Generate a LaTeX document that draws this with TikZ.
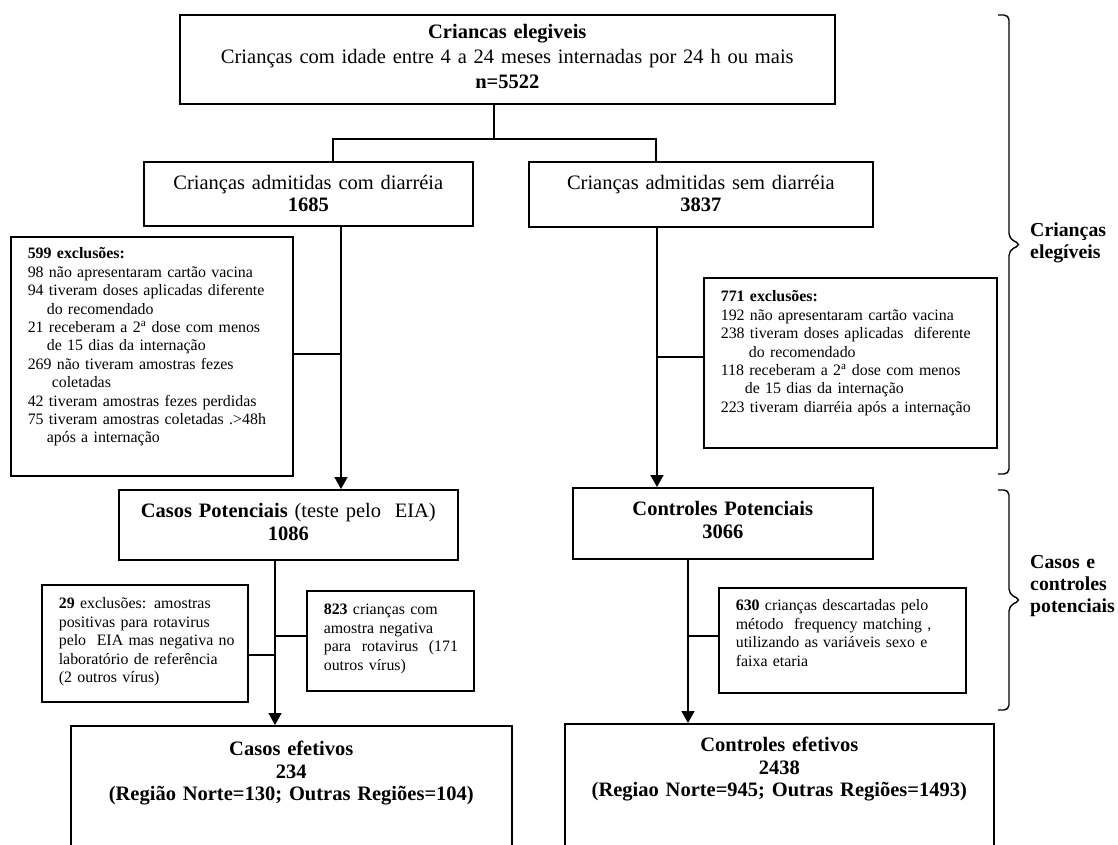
\documentclass[tikz,border=0pt]{standalone}
\usepackage{fontspec}
\setmainfont{Liberation Serif}
\usetikzlibrary{arrows.meta, calc}
\newcommand{\bigfont}{\fontsize{20.5}{23}\selectfont}
\newcommand{\smallfont}{\fontsize{15.9}{18.4}\selectfont}
\tikzstyle{mainbox}=[draw, line width=1.6pt, inner xsep=0pt, inner ysep=0pt, anchor=north west, align=center, font=\bigfont]
\tikzstyle{exbox}=[draw, line width=1.6pt, inner xsep=17pt, inner ysep=0pt, anchor=north west, align=left, font=\smallfont]
\tikzstyle{side}=[inner sep=0pt, anchor=north west, align=left, text width=100pt, font=\fontsize{19.8}{22}\selectfont\bfseries]
\tikzstyle{arr}=[line width=1.6pt, -{Triangle[width=13pt,length=12pt]}]
\tikzstyle{conn}=[line width=1.6pt]
\tikzstyle{curl}=[line width=1.4pt, rounded corners=5pt]

\begin{document}
\begin{tikzpicture}[x=1pt, y=-1pt]
        \useasboundingbox (0,0) rectangle (1118,845);
        \clip (0,0) rectangle (1118,845);
        \node[mainbox, font=\fontsize{20.5}{25}\selectfont, text width=655pt, text height=24pt, text depth=65pt] (elig) at (179,14)
            {\textbf{Criancas elegiveis}\\ Crianças com idade entre 4 a 24 meses internadas por 24 h ou mais\\ \textbf{n=5522}};
        \node[mainbox, font=\fontsize{20.5}{22}\selectfont, text width=329pt, text height=28pt, text depth=36pt] (cdia) at (143,161)
            {Crianças admitidas com diarréia\\ \textbf{1685}};
        \node[mainbox, font=\fontsize{20.5}{22}\selectfont, text width=344pt, text height=28pt, text depth=37pt] (sdia) at (528,161)
            {Crianças admitidas sem diarréia\\ \textbf{3837}};
        \node[exbox, text width=248pt, text height=22pt, text depth=217pt] (exl) at (10,236)
            {\begin{tabular}[t]{@{}l@{}}
            \textbf{599 exclusões:}\\
            98 não apresentaram cartão vacina\\
            94 tiveram doses aplicadas diferente\\
            \hspace*{19pt}do recomendado\\
            21 receberam a 2\textsuperscript{a} dose com menos\\
            \hspace*{19pt}de 15 dias da internação\\
            269 não tiveram amostras fezes\\
            \hspace*{24pt}coletadas\\
            42 tiveram amostras fezes perdidas\\
            75 tiveram amostras coletadas .>48h\\
            \hspace*{19pt}após a internação
            \end{tabular}};
        \node[exbox, text width=259pt, text height=24pt, text depth=146pt] (exr) at (703,277)
            {\begin{tabular}[t]{@{}l@{}}
            \textbf{771 exclusões:}\\
            192 não apresentaram cartão vacina\\
            238 tiveram doses aplicadas\ \ diferente\\
            \hspace*{28pt}do recomendado\\
            118 receberam a 2\textsuperscript{a} dose com menos\\
            \hspace*{24pt}de 15 dias da internação\\
            223 tiveram diarréia após a internação
            \end{tabular}};
        \node[mainbox, text width=339pt, text height=28pt, text depth=42pt] (casp) at (118,489)
            {\textbf{Casos Potenciais} (teste pelo\ \ EIA)\\ \textbf{1086}};
        \node[mainbox, text width=300pt, text height=28pt, text depth=43pt] (ctrp) at (572,487)
            {\textbf{Controles Potenciais}\\ \textbf{3066}};
        \node[exbox, text width=172pt, text height=24pt, text depth=93pt] (ex29) at (41,584)
            {\begin{tabular}[t]{@{}l@{}}
            \textbf{29} exclusões: amostras\\
            positivas para rotavirus\\
            pelo\ \ EIA mas negativa no\\
            laboratório de referência\\
            (2 outros vírus)
            \end{tabular}};
        \node[exbox, text width=133pt, text height=24pt, text depth=76pt] (ex823) at (306,590)
            {\begin{tabular}[t]{@{}l@{}}
            \textbf{823} crianças com\\
            amostra negativa\\
            para\ \ rotavirus\ \ (171\\
            outros vírus)
            \end{tabular}};
        \node[exbox, text width=213pt, text height=23pt, text depth=82pt] (ex630) at (718,587)
            {\begin{tabular}[t]{@{}l@{}}
            \textbf{630} crianças descartadas pelo\\
            método\ \ frequency matching ,\\
            utilizando as variáveis sexo e\\
            faixa etaria
            \end{tabular}};
        \node[mainbox, font=\fontsize{20.5}{22.5}\selectfont\bfseries, text width=441pt, text height=30pt, text depth=120pt] (cefe) at (70,725)
            {Casos efetivos\\ 234\\ (Região Norte=130; Outras Regiões=104)};
        \node[mainbox, font=\fontsize{20.5}{22.5}\selectfont\bfseries, text width=429pt, text height=28pt, text depth=122pt] (ctre) at (564,723)
            {Controles efetivos\\ 2438\\ (Regiao Norte=945; Outras Regiões=1493)};
        \node[side, text height=16pt] (lbla) at (1030,220) {Crianças\\ elegíveis};
        \node[side, text height=16pt] (lblb) at (1030,552) {Casos e\\ controles\\ potenciais};

        \coordinate (split) at (494,139);
        \coordinate (jl) at (333,139);
        \coordinate (jr) at (656,139);
        \coordinate (ta) at (341,354);
        \coordinate (tb) at (657,357);
        \coordinate (tc) at (275,655);
        \coordinate (tc2) at (275,636);
        \coordinate (td) at (688,636);
        \draw[conn] (split |- elig.south) -- (split);
        \draw[conn] (jl |- cdia.north) -- (jl) -- (jr) -- (jr |- sdia.north);
        \draw[arr] (ta |- cdia.south) -- (ta |- casp.north);
        \draw[conn] (exl.east |- ta) -- (ta);
        \draw[arr] (tb |- sdia.south) -- (tb |- ctrp.north);
        \draw[conn] (tb) -- (exr.west |- tb);
        \draw[arr] (tc |- casp.south) -- (tc |- cefe.north);
        \draw[conn] (ex29.east |- tc) -- (tc);
        \draw[conn] (tc2) -- (ex823.west |- tc2);
        \draw[arr] (td |- ctrp.south) -- (td |- ctre.north);
        \draw[conn] (td) -- (ex630.west |- td);

        \coordinate (bra) at (998,15);
        \coordinate (brb) at (998,474);
        \coordinate (brc) at (998,490);
        \coordinate (brd) at (998,710);
        \draw[curl] (bra) -- ++(11,0) -- ++(0,223.5) -- ++(12,6) -- ++(-12,6) -- ++(0,223.5) -- (brb);
        \draw[curl] (brc) -- ++(11,0) -- ++(0,104) -- ++(12,6) -- ++(-12,6) -- ++(0,104) -- (brd);
    \end{tikzpicture}
\end{document}
